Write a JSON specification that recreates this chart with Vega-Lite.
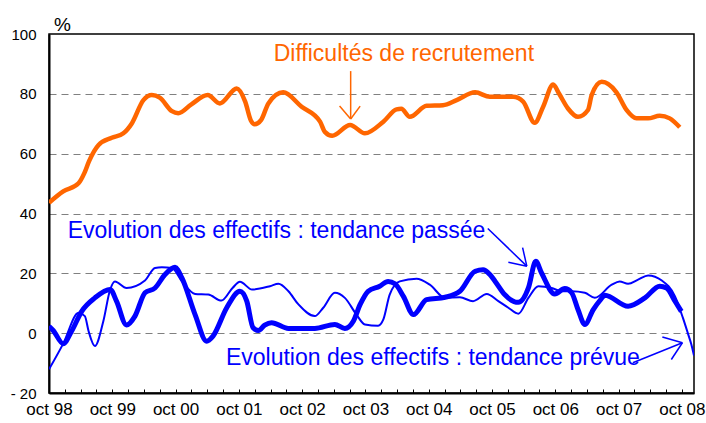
{
  "$schema": "https://vega.github.io/schema/vega-lite/v6.json",
  "width": 645,
  "height": 359,
  "autosize": {"type": "none"},
  "padding": {"left": 49, "top": 34, "right": 12, "bottom": 30},
  "background": "white",
  "config": {
    "view": {"stroke": "#000000", "strokeWidth": 1.5},
    "font": "Liberation Sans",
    "axis": {"labelFont": "Liberation Sans", "labelColor": "#000000", "titleFont": "Liberation Sans", "titleColor": "#000000"}
  },
  "datasets": {
    "series": [
      {"m": 0, "v": 43.6, "s": "orange"}, {"m": 2.7, "v": 47.4, "s": "orange"}, {"m": 5.6, "v": 50.1, "s": "orange"}, {"m": 6.7, "v": 53.5, "s": "orange"}, {"m": 7.6, "v": 57.5, "s": "orange"}, {"m": 9.4, "v": 62.9, "s": "orange"}, {"m": 11.9, "v": 65.3, "s": "orange"}, {"m": 14.1, "v": 66.8, "s": "orange"}, {"m": 15.7, "v": 70.1, "s": "orange"}, {"m": 17.9, "v": 77.9, "s": "orange"}, {"m": 19.5, "v": 79.6, "s": "orange"}, {"m": 21, "v": 78.7, "s": "orange"}, {"m": 23.3, "v": 74.2, "s": "orange"}, {"m": 24.5, "v": 73.5, "s": "orange"}, {"m": 27, "v": 76.5, "s": "orange"}, {"m": 30.1, "v": 79.6, "s": "orange"}, {"m": 32.4, "v": 76.8, "s": "orange"}, {"m": 35.6, "v": 81.8, "s": "orange"}, {"m": 37.2, "v": 77.4, "s": "orange"}, {"m": 38.3, "v": 71.0, "s": "orange"}, {"m": 39.0, "v": 69.8, "s": "orange"}, {"m": 40.2, "v": 71.2, "s": "orange"}, {"m": 41.6, "v": 76.8, "s": "orange"}, {"m": 44.4, "v": 80.5, "s": "orange"}, {"m": 47.9, "v": 75.7, "s": "orange"}, {"m": 51.4, "v": 70.7, "s": "orange"}, {"m": 52.3, "v": 67.3, "s": "orange"}, {"m": 53.7, "v": 66.0, "s": "orange"}, {"m": 57.1, "v": 69.6, "s": "orange"}, {"m": 59.9, "v": 66.8, "s": "orange"}, {"m": 63.4, "v": 70.7, "s": "orange"}, {"m": 65.9, "v": 74.8, "s": "orange"}, {"m": 66.8, "v": 75.0, "s": "orange"}, {"m": 68.4, "v": 72.3, "s": "orange"}, {"m": 71.6, "v": 76.0, "s": "orange"}, {"m": 74.7, "v": 76.2, "s": "orange"}, {"m": 77.3, "v": 77.9, "s": "orange"}, {"m": 80.8, "v": 80.5, "s": "orange"}, {"m": 83.6, "v": 79.0, "s": "orange"}, {"m": 88, "v": 79.0, "s": "orange"}, {"m": 89.9, "v": 77.4, "s": "orange"}, {"m": 92.1, "v": 70.3, "s": "orange"}, {"m": 93.7, "v": 75.7, "s": "orange"}, {"m": 95.6, "v": 83.1, "s": "orange"}, {"m": 96.7, "v": 80.1, "s": "orange"}, {"m": 98.4, "v": 75.1, "s": "orange"}, {"m": 100.3, "v": 72.3, "s": "orange"}, {"m": 102.2, "v": 74.6, "s": "orange"}, {"m": 102.9, "v": 79.6, "s": "orange"}, {"m": 104.8, "v": 84.0, "s": "orange"}, {"m": 107.6, "v": 80.5, "s": "orange"}, {"m": 109.5, "v": 74.6, "s": "orange"}, {"m": 111.4, "v": 71.8, "s": "orange"}, {"m": 113.6, "v": 71.8, "s": "orange"}, {"m": 115.8, "v": 72.7, "s": "orange"}, {"m": 117.7, "v": 71.8, "s": "orange"}, {"m": 119.6, "v": 68.8, "s": "orange"},
      {"m": 0, "v": 2.3, "s": "passee"}, {"m": 0.8, "v": 0.9, "s": "passee"}, {"m": 2.7, "v": -3.5, "s": "passee"}, {"m": 4.3, "v": 0.7, "s": "passee"}, {"m": 6.2, "v": 7.3, "s": "passee"}, {"m": 8.7, "v": 11.8, "s": "passee"}, {"m": 11.6, "v": 14.6, "s": "passee"}, {"m": 12.8, "v": 10.7, "s": "passee"}, {"m": 14.7, "v": 2.7, "s": "passee"}, {"m": 16.3, "v": 5.7, "s": "passee"}, {"m": 18.2, "v": 13.5, "s": "passee"}, {"m": 20.1, "v": 15.1, "s": "passee"}, {"m": 22, "v": 19.6, "s": "passee"}, {"m": 23.9, "v": 22, "s": "passee"}, {"m": 25.2, "v": 18.5, "s": "passee"}, {"m": 27.7, "v": 6.2, "s": "passee"}, {"m": 29.9, "v": -2.7, "s": "passee"}, {"m": 31.1, "v": -1, "s": "passee"}, {"m": 33.7, "v": 8.5, "s": "passee"}, {"m": 36.2, "v": 14, "s": "passee"}, {"m": 37.5, "v": 10.7, "s": "passee"}, {"m": 38.7, "v": 1.8, "s": "passee"}, {"m": 39.7, "v": 0.9, "s": "passee"}, {"m": 40.9, "v": 2.7, "s": "passee"}, {"m": 42.2, "v": 3.5, "s": "passee"}, {"m": 45.4, "v": 1.6, "s": "passee"}, {"m": 50.4, "v": 1.6, "s": "passee"}, {"m": 54.2, "v": 2.9, "s": "passee"}, {"m": 56.1, "v": 1.6, "s": "passee"}, {"m": 57.7, "v": 4, "s": "passee"}, {"m": 59, "v": 9.6, "s": "passee"}, {"m": 60.5, "v": 14, "s": "passee"}, {"m": 62.7, "v": 15.7, "s": "passee"}, {"m": 64.3, "v": 17.3, "s": "passee"}, {"m": 65.6, "v": 16.5, "s": "passee"}, {"m": 67.2, "v": 12.3, "s": "passee"}, {"m": 69.1, "v": 6.2, "s": "passee"}, {"m": 71.6, "v": 11.2, "s": "passee"}, {"m": 75.1, "v": 12, "s": "passee"}, {"m": 77.9, "v": 14, "s": "passee"}, {"m": 80.8, "v": 20.7, "s": "passee"}, {"m": 82.3, "v": 21.2, "s": "passee"}, {"m": 83.6, "v": 19.6, "s": "passee"}, {"m": 84.6, "v": 17.3, "s": "passee"}, {"m": 86.4, "v": 12.9, "s": "passee"}, {"m": 89, "v": 10.3, "s": "passee"}, {"m": 90.9, "v": 15.1, "s": "passee"}, {"m": 92.3, "v": 24, "s": "passee"}, {"m": 93.4, "v": 20.1, "s": "passee"}, {"m": 95.9, "v": 13.1, "s": "passee"}, {"m": 97.8, "v": 14.9, "s": "passee"}, {"m": 99.1, "v": 13.5, "s": "passee"}, {"m": 100.3, "v": 7.9, "s": "passee"}, {"m": 101.6, "v": 2.9, "s": "passee"}, {"m": 103.2, "v": 7.9, "s": "passee"}, {"m": 104.5, "v": 11, "s": "passee"}, {"m": 105.4, "v": 12.7, "s": "passee"}, {"m": 109.8, "v": 9, "s": "passee"}, {"m": 113, "v": 11.8, "s": "passee"}, {"m": 115.8, "v": 15.7, "s": "passee"}, {"m": 117.1, "v": 15.1, "s": "passee"}, {"m": 118.7, "v": 10.7, "s": "passee"}, {"m": 119.9, "v": 7.3, "s": "passee"},
      {"m": 0, "v": -12.1, "s": "prevue"}, {"m": 2.7, "v": -3.5, "s": "prevue"}, {"m": 5.6, "v": 6.8, "s": "prevue"}, {"m": 6.8, "v": 5.7, "s": "prevue"}, {"m": 7.5, "v": 0.7, "s": "prevue"}, {"m": 8.7, "v": -4.3, "s": "prevue"}, {"m": 10.3, "v": 4, "s": "prevue"}, {"m": 11.6, "v": 14.6, "s": "prevue"}, {"m": 12.5, "v": 17.3, "s": "prevue"}, {"m": 14.7, "v": 15.1, "s": "prevue"}, {"m": 18.2, "v": 17.6, "s": "prevue"}, {"m": 20.1, "v": 21.8, "s": "prevue"}, {"m": 21.4, "v": 22, "s": "prevue"}, {"m": 23.3, "v": 21.8, "s": "prevue"}, {"m": 25.2, "v": 17.3, "s": "prevue"}, {"m": 27.7, "v": 13.1, "s": "prevue"}, {"m": 30.2, "v": 12.9, "s": "prevue"}, {"m": 32.7, "v": 10.9, "s": "prevue"}, {"m": 34.8, "v": 15.1, "s": "prevue"}, {"m": 36.2, "v": 17.2, "s": "prevue"}, {"m": 38.5, "v": 14.6, "s": "prevue"}, {"m": 41.9, "v": 15.7, "s": "prevue"}, {"m": 43.5, "v": 16.5, "s": "prevue"}, {"m": 45.4, "v": 14, "s": "prevue"}, {"m": 47.3, "v": 9.6, "s": "prevue"}, {"m": 50.4, "v": 5.7, "s": "prevue"}, {"m": 52, "v": 8.5, "s": "prevue"}, {"m": 54.2, "v": 13.5, "s": "prevue"}, {"m": 56.1, "v": 11.8, "s": "prevue"}, {"m": 58.3, "v": 6.2, "s": "prevue"}, {"m": 59.9, "v": 2.9, "s": "prevue"}, {"m": 62.4, "v": 2.5, "s": "prevue"}, {"m": 63.4, "v": 4.6, "s": "prevue"}, {"m": 64.6, "v": 12.9, "s": "prevue"}, {"m": 66.5, "v": 17.3, "s": "prevue"}, {"m": 69.7, "v": 18.2, "s": "prevue"}, {"m": 72.2, "v": 16.2, "s": "prevue"}, {"m": 75.1, "v": 11.8, "s": "prevue"}, {"m": 77.9, "v": 12, "s": "prevue"}, {"m": 80.4, "v": 10.7, "s": "prevue"}, {"m": 83, "v": 13.1, "s": "prevue"}, {"m": 85.2, "v": 10.7, "s": "prevue"}, {"m": 87.1, "v": 8.5, "s": "prevue"}, {"m": 89, "v": 6.5, "s": "prevue"}, {"m": 90.9, "v": 11.8, "s": "prevue"}, {"m": 92.8, "v": 15.7, "s": "prevue"}, {"m": 95.3, "v": 15.1, "s": "prevue"}, {"m": 97.2, "v": 14, "s": "prevue"}, {"m": 99.1, "v": 14, "s": "prevue"}, {"m": 101.6, "v": 13.5, "s": "prevue"}, {"m": 103.5, "v": 11.8, "s": "prevue"}, {"m": 106.7, "v": 16.2, "s": "prevue"}, {"m": 108.2, "v": 17.3, "s": "prevue"}, {"m": 109.8, "v": 16.5, "s": "prevue"}, {"m": 111.7, "v": 17.9, "s": "prevue"}, {"m": 113.6, "v": 19.3, "s": "prevue"}, {"m": 116.2, "v": 17.6, "s": "prevue"}, {"m": 118.7, "v": 12.3, "s": "prevue"}, {"m": 120.2, "v": 5.1, "s": "prevue"}, {"m": 121.2, "v": -0.4, "s": "prevue"}, {"m": 121.8, "v": -3.8, "s": "prevue"}, {"m": 122.3, "v": -7.5, "s": "prevue"}
    ],
    "labels": [
      {"m": 42.6, "v": 91.0, "label": "Difficultés de  recrutement", "c": "orange"},
      {"m": 3.55, "v": 31.9, "label": "Evolution des effectifs : tendance passée", "c": "blue"},
      {"m": 33.55, "v": -10.7, "label": "Evolution des effectifs : tendance prévue", "c": "blue"}
    ],
    "arrows": [
      {"m": 57.2, "v": 87.6, "m2": 57.2, "v2": 71.6, "c": "orange"},
      {"m": 55.1, "v": 75.9, "m2": 57.2, "v2": 71.6, "c": "orange"},
      {"m": 59.0, "v": 75.9, "m2": 57.2, "v2": 71.6, "c": "orange"},
      {"m": 83.2, "v": 35.0, "m2": 90.6, "v2": 22.4, "c": "blue"},
      {"m": 87.1, "v": 23.7, "m2": 90.6, "v2": 22.4, "c": "blue"},
      {"m": 89.8, "v": 28.6, "m2": 90.6, "v2": 22.4, "c": "blue"},
      {"m": 110.7, "v": -9.9, "m2": 120.1, "v2": -3.2, "c": "blue"},
      {"m": 116.3, "v": -1.3, "m2": 120.1, "v2": -3.2, "c": "blue"},
      {"m": 118.0, "v": -8.8, "m2": 120.1, "v2": -3.2, "c": "blue"}
    ]
  },
  "encoding": {
    "x": {
      "field": "m", "type": "quantitative",
      "scale": {"domain": [0, 122.3], "nice": false, "zero": false},
      "axis": {
        "title": null,
        "values": [0, 3, 6, 9, 12, 15, 18, 21, 24, 27, 30, 33, 36, 39, 42, 45, 48, 51, 54, 57, 60, 63, 66, 69, 72, 75, 78, 81, 84, 87, 90, 93, 96, 99, 102, 105, 108, 111, 114, 117, 120],
        "labelExpr": "datum.value % 12 == 0 ? 'oct ' + pad(toString((datum.value / 12 + 98) % 100), 2, '0', 'left') : ''",
        "labelFlush": false,
        "labelOverlap": false,
        "labelFontSize": 17,
        "labelPadding": 12,
        "tickSize": -4,
        "tickColor": "#000000",
        "tickWidth": 1,
        "domainColor": "#000000",
        "domainWidth": 2,
        "grid": false
      }
    },
    "y": {
      "field": "v", "type": "quantitative",
      "scale": {"domain": [-20, 100], "nice": false, "zero": false},
      "axis": {
        "title": "%",
        "titleAngle": 0,
        "titleX": 13,
        "titleY": -4,
        "titleAlign": "center",
        "titleBaseline": "alphabetic",
        "titleFontSize": 19,
        "titleFontWeight": "normal",
        "values": [-20, 0, 20, 40, 60, 80, 100],
        "labelExpr": "datum.value < 0 ? '- ' + abs(datum.value) : datum.label",
        "labelFontSize": 15,
        "labelPadding": 13,
        "ticks": false,
        "domainColor": "#000000",
        "domainWidth": 2,
        "grid": true,
        "gridColor": "#808080",
        "gridDash": [7, 5],
        "gridWidth": 1.2,
        "gridOpacity": {"condition": {"test": "datum.value == 100 || datum.value == -20", "value": 0}, "value": 1}
      }
    }
  },
  "layer": [
    {
      "data": {"name": "series"},
      "transform": [{"filter": "datum.s == 'prevue'"}],
      "mark": {"type": "line", "interpolate": "monotone", "color": "#0000FF", "strokeWidth": 2, "clip": true},
      "encoding": {"order": {"field": "m", "type": "quantitative"}}
    },
    {
      "data": {"name": "series"},
      "transform": [{"filter": "datum.s == 'passee'"}],
      "mark": {"type": "line", "interpolate": "monotone", "color": "#0000FF", "strokeWidth": 5, "clip": true},
      "encoding": {"order": {"field": "m", "type": "quantitative"}}
    },
    {
      "data": {"name": "series"},
      "transform": [{"filter": "datum.s == 'orange'"}],
      "mark": {"type": "line", "interpolate": "monotone", "color": "#FF6600", "strokeWidth": 4.5, "clip": true},
      "encoding": {"order": {"field": "m", "type": "quantitative"}}
    },
    {
      "data": {"name": "arrows"},
      "mark": {"type": "rule", "strokeWidth": 1.5},
      "encoding": {
        "x2": {"field": "m2"},
        "y2": {"field": "v2"},
        "color": {"field": "c", "type": "nominal", "scale": {"domain": ["orange", "blue"], "range": ["#FF6600", "#0000FF"]}, "legend": null}
      }
    },
    {
      "data": {"name": "labels"},
      "mark": {"type": "text", "align": "left", "baseline": "alphabetic", "fontSize": 23, "font": "Liberation Sans"},
      "encoding": {
        "text": {"field": "label"},
        "color": {"field": "c", "type": "nominal", "scale": {"domain": ["orange", "blue"], "range": ["#FF6600", "#0000FF"]}, "legend": null}
      }
    }
  ]
}
